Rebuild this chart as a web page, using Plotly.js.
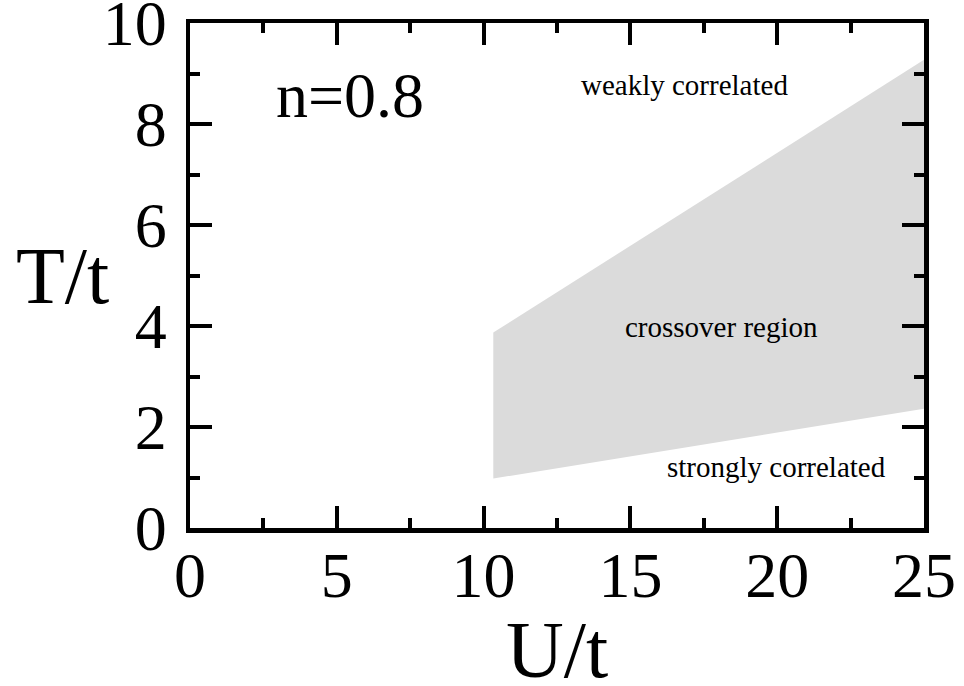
<!DOCTYPE html>
<html>
<head>
<meta charset="utf-8">
<script src="https://cdn.plot.ly/plotly-3.0.1.min.js"></script>
<style>html,body{margin:0;padding:0;background:#fff}#chart{width:964px;height:686px}</style>
</head>
<body>
<div id="chart"></div>
<script>
// Crossover region boundary (U/t, T/t)
const crossoverU = [10.33, 10.33, 25, 25, 10.33];
const crossoverT = [0.98, 3.87, 9.27, 2.36, 0.98];
const xTicks = [0, 5, 10, 15, 20, 25];
const yTicks = [0, 2, 4, 6, 8, 10];
const regionLabels = ["weakly correlated", "crossover region", "strongly correlated"];
const regionLabelU = [16.83, 18.09, 19.96];
const regionLabelT = [8.77, 3.99, 1.20];

const serif = "'Liberation Serif', 'Times New Roman', Times, serif";

const trace = {
  x: crossoverU, y: crossoverT, type: 'scatter', mode: 'lines',
  fill: 'toself', fillcolor: '#dbdbdb', line: {width: 0, color: '#dbdbdb'},
  hoverinfo: 'skip', showlegend: false
};

const axisCommon = {
  showline: true, linewidth: 4.5, linecolor: '#000', mirror: 'ticks',
  ticks: 'inside', ticklen: 22, tickwidth: 4, tickcolor: '#000',
  showgrid: false, zeroline: false, ticklabeloverflow: 'allow',
  tickfont: {family: serif, size: 64, color: '#000'},
  fixedrange: true
};

const pw = 964 - 190 - 40, ph = 686 - 23 - 158;
function px2paperX(px) { return (px - 190) / pw; }
function px2paperY(py) { return 1 - (py - 23) / ph; }

const annotations = regionLabels.map((t, i) => ({
  x: regionLabelU[i], y: regionLabelT[i], xref: 'x', yref: 'y', text: t,
  showarrow: false, font: {family: serif, size: 29, color: '#000'}
}));
annotations.push({x: 5.46, y: 8.57, xref: 'x', yref: 'y', text: 'n=0.8', showarrow: false,
  font: {family: serif, size: 64, color: '#000'}});
annotations.push({x: px2paperX(62), y: px2paperY(276), xref: 'paper', yref: 'paper', text: 'T/t',
  xanchor: 'center', yanchor: 'middle', showarrow: false,
  font: {family: serif, size: 80, color: '#000'}});
annotations.push({x: px2paperX(557), y: px2paperY(650), xref: 'paper', yref: 'paper', text: 'U/t',
  xanchor: 'center', yanchor: 'middle', showarrow: false,
  font: {family: serif, size: 80, color: '#000'}});

const layout = {
  width: 964, height: 686,
  margin: {l: 190, r: 40, t: 23, b: 158},
  paper_bgcolor: '#fff', plot_bgcolor: '#fff',
  xaxis: Object.assign({}, axisCommon, {
    range: [0, 25], tickvals: xTicks, ticktext: xTicks.map(String), ticklabelstandoff: -12,
    minor: {dtick: 2.5, tick0: 0, ticks: 'inside', ticklen: 10, tickwidth: 4, tickcolor: '#000', showgrid: false}
  }),
  yaxis: Object.assign({}, axisCommon, {
    range: [0, 10], tickvals: yTicks, ticktext: yTicks.map(String), ticklabelstandoff: 6,
    minor: {dtick: 1, tick0: 0, ticks: 'inside', ticklen: 10, tickwidth: 4, tickcolor: '#000', showgrid: false}
  }),
  annotations: annotations,
  showlegend: false
};

Plotly.newPlot('chart', [trace], layout, {displayModeBar: false, staticPlot: true});
</script>
</body>
</html>
